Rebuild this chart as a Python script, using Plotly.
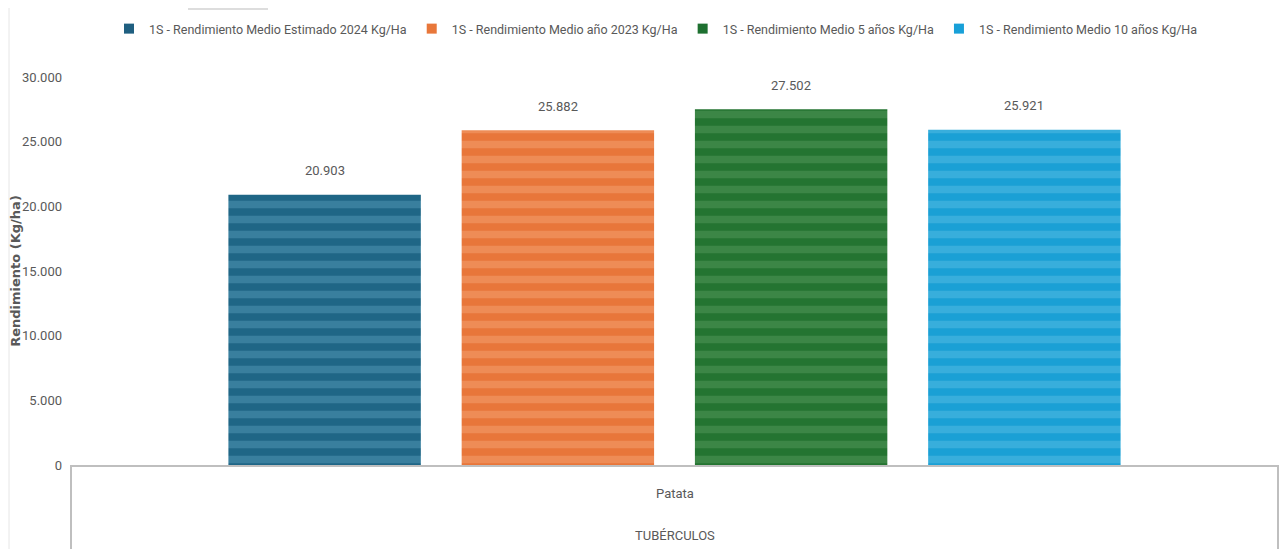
import plotly.graph_objects as go

category = ["Patata"]
group_label = "TUBÉRCULOS"
series_names = [
    "1S - Rendimiento Medio Estimado 2024 Kg/Ha",
    "1S - Rendimiento Medio año 2023 Kg/Ha",
    "1S - Rendimiento Medio 5 años Kg/Ha",
    "1S - Rendimiento Medio 10 años Kg/Ha",
]
values = [20903, 25882, 27502, 25921]
dark_colors = ["#1F6686", "#E8763A", "#247431", "#1AA0D5"]
light_colors = ["#397F9E", "#EE8C56", "#3C8646", "#38AEDC"]
legend_colors = ["#1F5F80", "#E8773A", "#1E7030", "#18A0D8"]
y_ticks = [0, 5000, 10000, 15000, 20000, 25000, 30000]

FONT = "Roboto, sans-serif"
GRAY = "#595959"

# page body adds an 8px offset; compensate
W, H = 1280, 541
L, R, T, B = 63, 10, 69, 84
pw = W - L - R
ph = H - T - B

BARGAP = 0.227
BARGROUPGAP = 0.175
n = len(values)
slot_px = pw * (1 - BARGAP) / n

fig = go.Figure()
for name, v, dc, lc in zip(series_names, values, dark_colors, light_colors):
    fig.add_trace(go.Bar(
        x=category, y=[v], name=name, showlegend=False,
        marker=dict(color=dc, line=dict(width=0),
                    pattern=dict(shape="-", bgcolor=dc, fgcolor=lc, size=15, solidity=0.5, fillmode="replace")),
        hoverinfo="skip",
    ))
for name, c in zip(series_names, legend_colors):
    fig.add_trace(go.Scatter(x=[None], y=[None], mode="markers", name=name,
                             marker=dict(symbol="square", size=10, color=c)))

for i, v in enumerate(values):
    fig.add_annotation(x=category[0], y=v, text=f"{v:,}".replace(",", "."), showarrow=False,
                       xshift=(i - (n - 1) / 2) * slot_px, yshift=24, yanchor="middle",
                       font=dict(family=FONT, size=13, color=GRAY))

fig.update_layout(
    width=W, height=H,
    margin=dict(l=L, r=R, t=T, b=B, autoexpand=False),
    paper_bgcolor="white", plot_bgcolor="white",
    separators=",.",
    barmode="group", bargap=BARGAP, bargroupgap=BARGROUPGAP,
    legend=dict(orientation="h", x=(656 - 71) / pw, xanchor="center", y=1 + (T - 21) / ph, yanchor="middle",
                font=dict(family=FONT, size=12.5, color=GRAY), itemwidth=30, tracegroupgap=0),
    xaxis=dict(showticklabels=False, showline=True, linecolor="#BFBFBF", linewidth=2,
               ticks="", showgrid=False, zeroline=False, range=[-0.5, 0.5]),
    yaxis=dict(range=[0, 30000], tickvals=y_ticks, tickformat=",d",
               tickfont=dict(family=FONT, size=13, color=GRAY),
               showgrid=False, zeroline=False, showline=False, ticks="", ticklabelstandoff=8,
               title=dict(text="Rendimiento (Kg/ha)", standoff=6,
                          font=dict(family="DejaVu Sans", size=13, color=GRAY, weight="bold"))),
    font=dict(family=FONT, color=GRAY),
)

fig.add_annotation(text=category[0], xref="paper", yref="paper", x=0.5, y=-(493 - 465) / ph,
                   showarrow=False, font=dict(family=FONT, size=13, color=GRAY), yanchor="middle")
fig.add_annotation(text=group_label, xref="paper", yref="paper", x=0.5, y=-(535 - 465) / ph,
                   showarrow=False, font=dict(family=FONT, size=13, color=GRAY), yanchor="middle")

for xp in (0, 1):
    fig.add_shape(type="line", xref="paper", yref="paper", x0=xp, x1=xp, y0=0, y1=-B / ph,
                  line=dict(color="#BFBFBF", width=2))
fig.add_shape(type="line", xref="paper", yref="paper", x0=(1 - L) / pw, x1=(1 - L) / pw,
              y0=-B / ph, y1=1 + T / ph, line=dict(color="#E6E6E6", width=1))
fig.add_shape(type="line", xref="paper", yref="paper", x0=(180 - L) / pw, x1=(260 - L) / pw,
              y0=1 + (T - 1) / ph, y1=1 + (T - 1) / ph, line=dict(color="#DDDDDD", width=2))

fig.write_html("out.html")
